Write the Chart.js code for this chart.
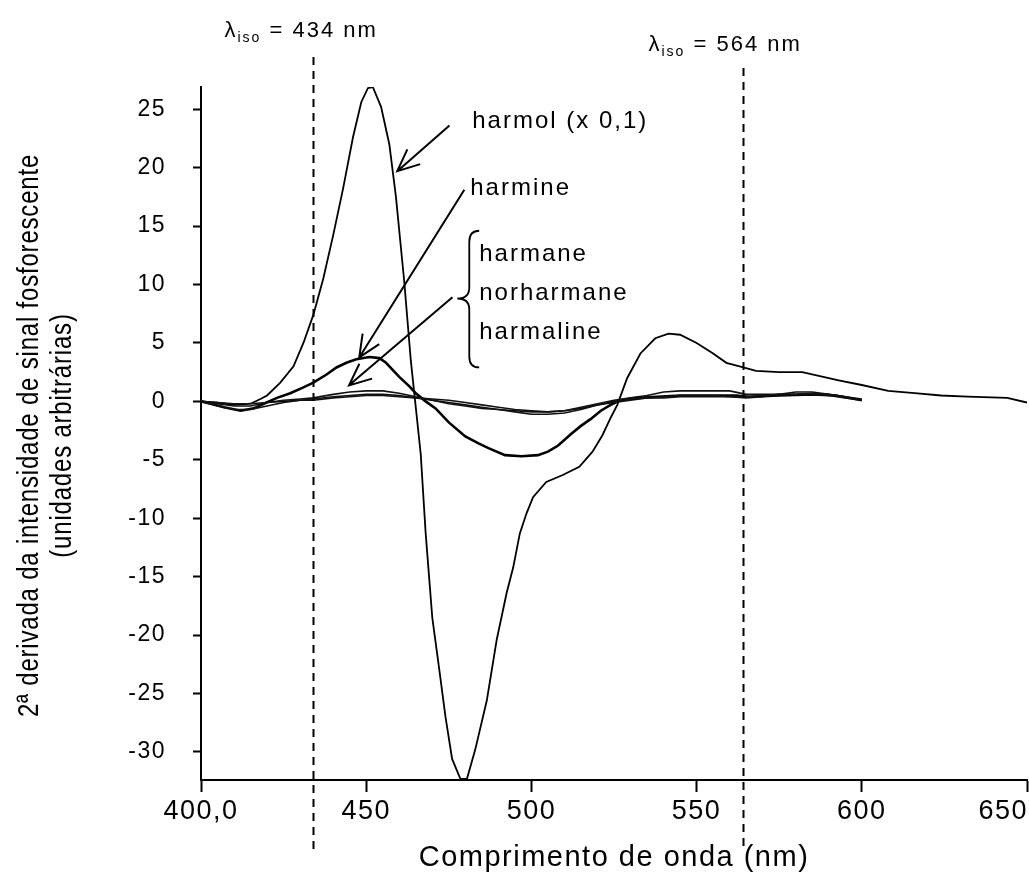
<!DOCTYPE html>
<html>
<head>
<meta charset="utf-8">
<script src="https://cdn.jsdelivr.net/npm/chart.js@4.4.0/dist/chart.umd.min.js"></script>
<style>
  html, body { margin: 0; padding: 0; background: #fff; }
</style>
</head>
<body>
<canvas id="spectra" width="1029" height="881"></canvas>
<script>
// wavelengths (nm) and 2nd-derivative values
var harmolNm = [400, 405, 410, 415, 418, 420, 424, 428, 431, 434, 437, 440, 443, 446, 448.5, 450.5, 452,
    454.5, 457, 459, 461.5, 463.5, 465, 466.5, 468, 470, 472, 474, 476, 478.5, 480.5, 483, 486.5, 489.5,
    492.5, 494.5, 496.5, 498.5, 500.5, 504.5, 509.5, 514.5, 518.5, 521.5, 524, 526, 529, 533, 537.5, 541.5,
    545, 550, 555, 559, 563, 568, 575, 582, 593, 600, 608, 616, 624, 632, 644, 650];
var harmolVal = [0, -0.1, -0.3, -0.2, 0.2, 0.5, 1.6, 3.0, 5.0, 7.4, 10.5, 14.2, 18.2, 22.6, 25.6, 26.8, 26.9,
    25.2, 22.0, 17.5, 10.3, 3.5, -0.5, -4.5, -11.3, -18.5, -22.7, -27.0, -30.6, -32.3, -32.3, -29.8, -25.6, -20.4,
    -16.4, -14.2, -11.3, -9.6, -8.2, -6.9, -6.3, -5.6, -4.3, -2.9, -1.4, -0.3, 2.0, 4.1, 5.4, 5.8,
    5.7, 5.0, 4.1, 3.3, 3.0, 2.6, 2.5, 2.5, 1.8, 1.4, 0.9, 0.7, 0.5, 0.4, 0.3, -0.1];

var harmineNm = [400, 403, 407, 412, 416, 419, 423, 427, 431, 434, 438, 441, 444, 447, 451, 454, 456, 458,
    460, 463, 465, 468, 471, 475, 480, 484, 487, 492, 497, 502, 505, 508, 512, 515, 518, 521, 524, 527,
    532, 538, 545, 555, 562, 566, 575, 585, 592, 598, 600];
var harmineVal = [0, -0.2, -0.5, -0.8, -0.6, -0.2, 0.3, 0.7, 1.2, 1.6, 2.3, 2.9, 3.3, 3.6, 3.8, 3.7, 3.3, 2.7,
    2.1, 1.3, 0.7, 0.0, -0.6, -1.8, -3.0, -3.6, -4.0, -4.6, -4.7, -4.6, -4.3, -3.8, -2.8, -2.1, -1.5, -0.8, -0.3, 0.1,
    0.3, 0.4, 0.5, 0.5, 0.5, 0.4, 0.5, 0.6, 0.5, 0.2, 0.1];

var smallNm = [400, 405, 410, 415, 420, 425, 430, 434, 440, 445, 450, 455, 460, 465, 470, 475, 480, 485, 490,
    495, 500, 505, 510, 515, 520, 525, 530, 535, 540, 545, 550, 555, 560, 565, 570, 575, 580, 585, 590, 595, 600];
var harmaneVal = [0, -0.2, -0.4, -0.4, -0.1, 0.1, 0.2, 0.3, 0.6, 0.8, 0.9, 0.9, 0.7, 0.4, 0.1, -0.2, -0.4, -0.6, -0.7,
    -0.8, -0.9, -0.9, -0.8, -0.5, -0.2, 0.1, 0.3, 0.5, 0.8, 0.9, 0.9, 0.9, 0.9, 0.6, 0.6, 0.6, 0.6, 0.7, 0.6, 0.4, 0.1];
var norharmaneVal = [0, -0.4, -0.7, -0.7, -0.4, -0.1, 0.1, 0.2, 0.4, 0.5, 0.6, 0.6, 0.5, 0.3, 0.1, -0.1, -0.3, -0.5, -0.7,
    -0.9, -1.1, -1.1, -1.0, -0.7, -0.3, 0.0, 0.2, 0.3, 0.3, 0.4, 0.4, 0.4, 0.4, 0.4, 0.5, 0.6, 0.6, 0.6, 0.5, 0.3, 0.1];
var harmalineVal = [0, -0.1, -0.2, -0.2, -0.1, 0.0, 0.1, 0.1, 0.3, 0.4, 0.5, 0.5, 0.4, 0.3, 0.2, 0.1, -0.1, -0.3, -0.5,
    -0.7, -0.8, -0.9, -0.8, -0.6, -0.3, -0.1, 0.1, 0.3, 0.4, 0.5, 0.5, 0.5, 0.4, 0.3, 0.4, 0.6, 0.8, 0.8, 0.6, 0.4, 0.2];

// isosbestic wavelengths
var isoNm = [434, 564];

var xTicks = [400, 450, 500, 550, 600, 650];
var yTitle = ['2ª derivada da intensidade de sinal fosforescente', '(unidades arbitrárias)'];
var xTitle = 'Comprimento de onda (nm)';

function pts(xs, ys) {
    return xs.map(function (x, i) { return { x: x, y: ys[i] }; });
}

var FONT = "'Liberation Sans', Arial, sans-serif";

function arrow(ctx, x1, y1, x2, y2) {
    var a = Math.atan2(y2 - y1, x2 - x1), len = 24, s = 0.42;
    ctx.beginPath();
    ctx.moveTo(x1, y1);
    ctx.lineTo(x2, y2);
    ctx.moveTo(x2 - len * Math.cos(a - s), y2 - len * Math.sin(a - s));
    ctx.lineTo(x2, y2);
    ctx.lineTo(x2 - len * Math.cos(a + s), y2 - len * Math.sin(a + s));
    ctx.stroke();
}

var spacing = {
    id: 'spacing',
    beforeLayout: function (chart) { chart.ctx.letterSpacing = '1.5px'; },
    beforeDraw: function (chart) {
        chart.ctx.letterSpacing = '1.5px';
        // last x label sits flush with the right edge
        var items = chart.scales.x.getLabelItems();
        items.forEach(function (it) {
            if (it.label === '650') {
                it.options.textAlign = 'right';
                it.options.translation[0] = chart.chartArea.right + 1;
            }
        });
    }
};

var notes = {
    id: 'notes',
    afterDraw: function (chart) {
        var ctx = chart.ctx, xs = chart.scales.x, ys = chart.scales.y;
        function px(v) { return xs.getPixelForValue(v); }
        function py(v) { return ys.getPixelForValue(v); }
        ctx.save();
        ctx.strokeStyle = '#000';
        ctx.fillStyle = '#000';

        // y axis title, two condensed lines
        var cy = (chart.chartArea.top + chart.chartArea.bottom) / 2 + 2;
        ctx.font = '30px ' + FONT;
        ctx.letterSpacing = '1px';
        ctx.textAlign = 'center';
        ctx.textBaseline = 'middle';
        [30, 63].forEach(function (x, i) {
            ctx.save();
            ctx.translate(x, cy);
            ctx.rotate(-Math.PI / 2);
            ctx.scale(0.8, 1);
            ctx.fillText(yTitle[i], 0, 0);
            ctx.restore();
        });
        ctx.textAlign = 'left';
        ctx.letterSpacing = '2px';

        // dashed isosbestic lines and their labels
        ctx.lineWidth = 2;
        ctx.setLineDash([8, 6]);
        var tops = [57, 68], labelY = [37, 51], labelDx = [-89, -95];
        isoNm.forEach(function (nm, i) {
            var x = Math.round(px(nm)) + 0.5;
            ctx.beginPath();
            ctx.moveTo(x, tops[i]);
            ctx.lineTo(x, 852);
            ctx.stroke();
            var lx = x + labelDx[i];
            ctx.font = '22px ' + FONT;
            ctx.textBaseline = 'alphabetic';
            ctx.fillText('λ', lx, labelY[i]);
            lx += ctx.measureText('λ').width;
            ctx.font = '14px ' + FONT;
            ctx.fillText('iso', lx, labelY[i] + 5);
            lx += ctx.measureText('iso').width;
            ctx.font = '22px ' + FONT;
            ctx.fillText(' = ' + nm + ' nm', lx, labelY[i]);
        });
        ctx.setLineDash([]);

        // arrows pointing at the curves
        ctx.lineWidth = 2;
        arrow(ctx, px(475.2), py(23.6), px(459.4), py(19.7));
        arrow(ctx, px(479.7), py(18.1), px(447.9), py(3.76));
        arrow(ctx, px(476.1), py(8.9), px(444.8), py(1.37));

        // brace grouping three compounds
        var bx = px(484.2), vx = px(481.2), mx = px(477.6);
        var yt = py(14.6), ym = py(8.8), yb = py(2.9), r = 11;
        ctx.lineWidth = 1.8;
        ctx.beginPath();
        ctx.moveTo(bx, yt);
        ctx.quadraticCurveTo(vx, yt, vx, yt + r);
        ctx.lineTo(vx, ym - r);
        ctx.quadraticCurveTo(vx, ym, mx, ym);
        ctx.quadraticCurveTo(vx, ym, vx, ym + r);
        ctx.lineTo(vx, yb - r);
        ctx.quadraticCurveTo(vx, yb, bx, yb);
        ctx.stroke();

        // compound names
        ctx.font = '24px ' + FONT;
        ctx.textBaseline = 'middle';
        ctx.fillText('harmol (x 0,1)', px(482.1), py(24.0));
        ctx.fillText('harmine', px(481.5), py(18.2));
        ctx.fillText('harmane', px(484.2), py(12.6));
        ctx.fillText('norharmane', px(484.2), py(9.2));
        ctx.fillText('harmaline', px(484.2), py(5.9));
        ctx.restore();
    }
};

var ctx = document.getElementById('spectra').getContext('2d');
var spectraChart = new Chart(ctx, {
    type: 'line',
    data: {
        datasets: [
            { label: 'harmane', data: pts(smallNm, harmaneVal), borderColor: '#111', borderWidth: 1.6 },
            { label: 'norharmane', data: pts(smallNm, norharmaneVal), borderColor: '#111', borderWidth: 1.6 },
            { label: 'harmaline', data: pts(smallNm, harmalineVal), borderColor: '#111', borderWidth: 1.6 },
            { label: 'harmine', data: pts(harmineNm, harmineVal), borderColor: '#000', borderWidth: 2.6 },
            { label: 'harmol (x 0,1)', data: pts(harmolNm, harmolVal), borderColor: '#000', borderWidth: 1.8 }
        ]
    },
    options: {
        responsive: false,
        animation: false,
        layout: { padding: { top: 87, right: 2, bottom: 0, left: 0 } },
        elements: { point: { radius: 0 }, line: { tension: 0, fill: false } },
        plugins: { legend: { display: false }, tooltip: { enabled: false } },
        scales: {
            x: {
                type: 'linear',
                min: 400,
                max: 650,
                afterBuildTicks: function (s) { s.ticks = xTicks.map(function (v) { return { value: v }; }); },
                afterFit: function (s) { s.height = 101; s.paddingLeft = 0; s.paddingRight = 0; },
                ticks: {
                    color: '#000',
                    font: { family: FONT, size: 27 },
                    padding: 3,
                    maxRotation: 0,
                    autoSkip: false,
                    callback: function (v) { return v === 400 ? '400,0' : String(v); }
                },
                grid: { drawOnChartArea: false, tickLength: 12, tickWidth: 2, tickColor: '#000' },
                border: { color: '#000', width: 2 },
                title: { display: true, text: xTitle, color: '#000', font: { family: FONT, size: 29 }, padding: { top: 0, bottom: 6 } }
            },
            y: {
                type: 'linear',
                min: -32.4,
                max: 26.9,
                afterFit: function (s) { s.width = 201; s.paddingTop = 0; s.paddingBottom = 0; },
                ticks: {
                    stepSize: 5,
                    includeBounds: false,
                    autoSkip: false,
                    color: '#000',
                    font: { family: FONT, size: 23 },
                    padding: 27
                },
                grid: { drawOnChartArea: false, tickLength: 8, tickWidth: 2, tickColor: '#000' },
                border: { color: '#000', width: 2 },
                title: { display: false }
            }
        }
    },
    plugins: [spacing, notes]
});
</script>
</body>
</html>
